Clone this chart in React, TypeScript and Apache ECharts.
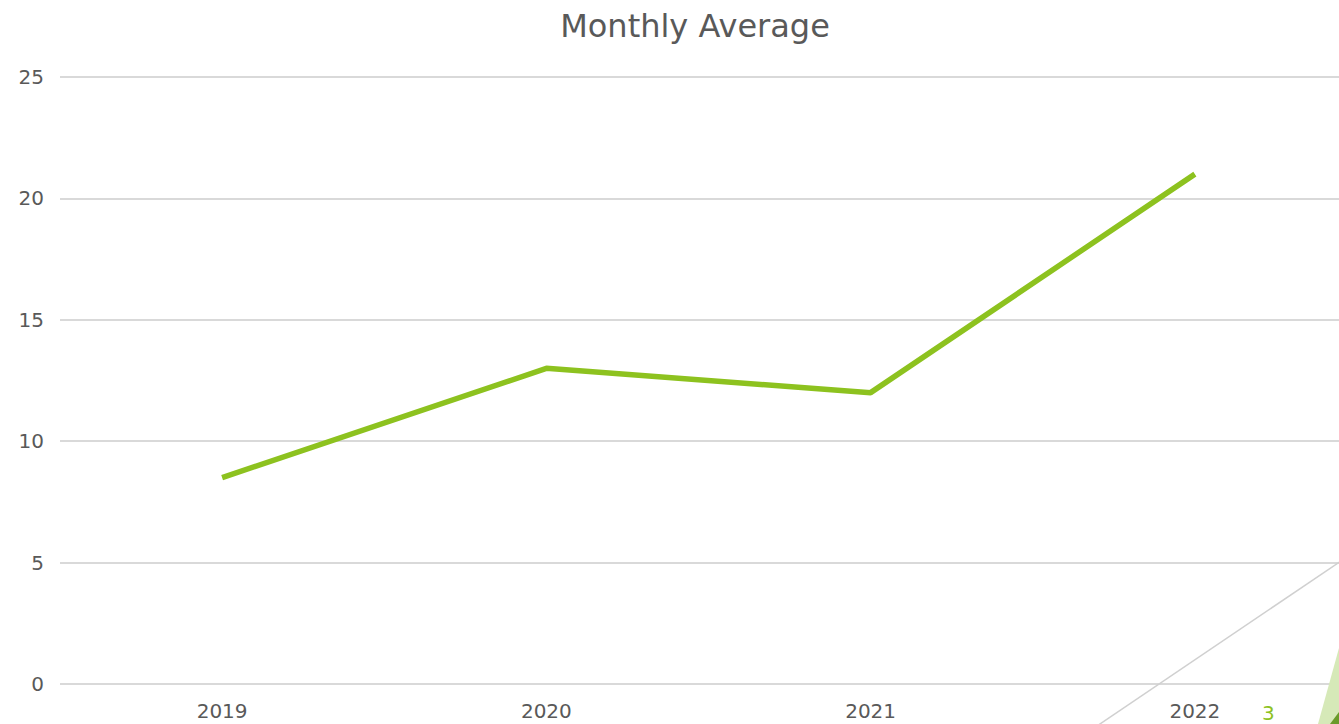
import React, { useEffect, useRef } from "react";
import * as echarts from "echarts";

const years = ["2019", "2020", "2021", "2022"];
const monthlyAverage = [8.5, 13, 12, 21];
const yTicks = { min: 0, max: 25, interval: 5 };
const titleText = "Monthly Average";
const pageNumber = "3";

export default function App() {
  const ref = useRef<HTMLDivElement>(null);
  useEffect(() => {
    document.body.style.margin = "0";
    document.body.style.overflow = "hidden";
    const chart = echarts.init(ref.current!, undefined, { renderer: "svg" });
    const font = "DejaVu Sans";
    chart.setOption({
      animation: false,
      backgroundColor: "#ffffff",
      title: {
        text: titleText,
        left: 690,
        textAlign: "center",
        top: 5,
        textStyle: { fontFamily: font, fontSize: 32, fontWeight: "normal", color: "#595959" },
      },
      grid: { left: 60, right: 43, top: 77, bottom: 40 },
      xAxis: {
        type: "category",
        data: years,
        boundaryGap: true,
        axisLine: { show: false },
        axisTick: { show: false },
        axisLabel: { fontFamily: font, fontSize: 20, color: "#595959", margin: 17 },
      },
      yAxis: {
        type: "value",
        min: yTicks.min,
        max: yTicks.max,
        interval: yTicks.interval,
        axisLine: { show: false },
        axisTick: { show: false },
        splitLine: { lineStyle: { color: "#d9d9d9", width: 2 } },
        axisLabel: { fontFamily: font, fontSize: 20, color: "#595959", margin: 16 },
      },
      series: [
        {
          type: "line",
          data: monthlyAverage,
          symbol: "none",
          lineStyle: { color: "#8dc21f", width: 5.5 },
        },
      ],
      graphic: [
        {
          type: "line",
          shape: { x1: 1097, y1: 726, x2: 1341, y2: 561 },
          style: { stroke: "#d0d0d0", lineWidth: 1.5 },
          z: 1,
        },
        {
          type: "polygon",
          shape: { points: [[1318, 724], [1339, 648], [1339, 724]] },
          style: { fill: "#d6e9b8" },
          z: 2,
        },
        {
          type: "polygon",
          shape: { points: [[1330, 724], [1339, 712], [1339, 724]] },
          style: { fill: "#6a9a2a" },
          z: 3,
        },
        {
          type: "text",
          x: 1262,
          y: 703,
          style: { text: pageNumber, fontFamily: font, fontSize: 20, fill: "#8dc21f" },
          z: 3,
        },
      ],
    });
    return () => chart.dispose();
  }, []);
  return (
    <div style={{ width: 1339, height: 724, overflow: "hidden", position: "relative" }}>
      <div ref={ref} style={{ position: "absolute", left: 0, top: 0, width: 1400, height: 724 }} />
    </div>
  );
}
